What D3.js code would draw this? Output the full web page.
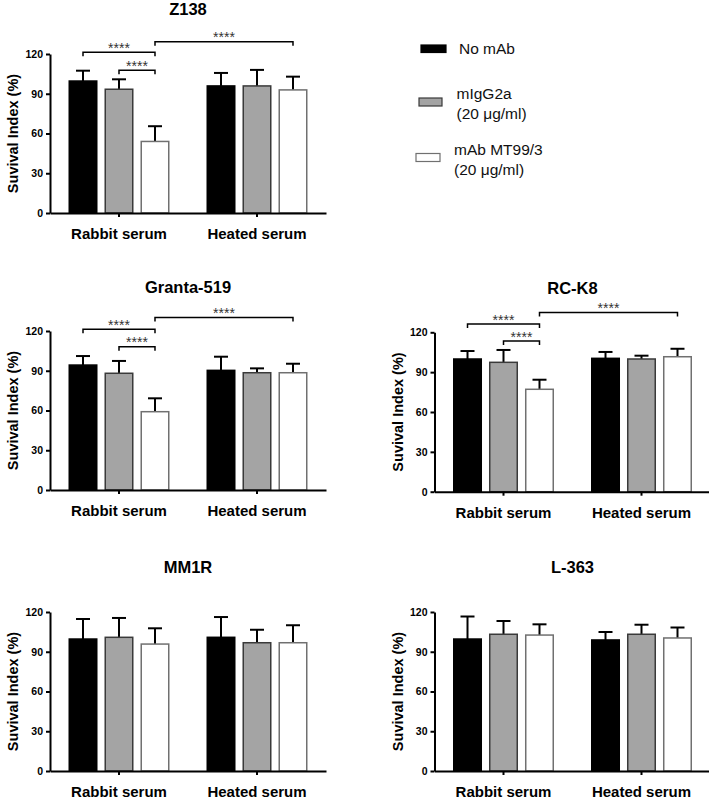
<!DOCTYPE html>
<html>
<head>
<meta charset="utf-8">
<script src="https://cdn.jsdelivr.net/npm/d3@7"></script>
<style>
  html, body { margin: 0; padding: 0; background: #fff; }
  svg { display: block; font-family: "Liberation Sans", Arial, sans-serif; }
</style>
</head>
<body>
<svg id="chart" width="709" height="803"></svg>
<script>
// ---------------- DATA ----------------
const groups = ["Rabbit serum", "Heated serum"];
const seriesNames = ["No mAb", "mIgG2a", "mAb MT99/3"];
const seriesSub = ["", "(20 \u03bcg/ml)", "(20 \u03bcg/ml)"];
const yTicks = [0, 30, 60, 90, 120];
const panelTitles = ["Z138", "Granta-519", "RC-K8", "MM1R", "L-363"];
const yLabel = "Suvival Index (%)";
const sigLabel = "****";

// means [group][series], errors (upper SD) [group][series]
const z138Means = [[99.6, 93.4, 54.0], [95.9, 95.9, 92.9]];
const z138Errors = [[7.8, 7.5, 11.5], [9.8, 12.1, 10.0]];
const grantaMeans = [[94.3, 88.1, 59.1], [90.3, 88.5, 88.5]];
const grantaErrors = [[6.8, 9.3, 10.1], [10.3, 3.3, 6.8]];
const rck8Means = [[99.9, 97.4, 77.1], [100.4, 99.9, 101.6]];
const rck8Errors = [[6.0, 9.3, 7.2], [4.8, 2.5, 6.0]];
const mm1rMeans = [[99.6, 100.9, 95.8], [100.9, 96.8, 96.8]];
const mm1rErrors = [[15.1, 14.6, 11.9], [15.3, 9.8, 13.2]];
const l363Means = [[99.6, 103.2, 102.6], [98.9, 103.2, 100.4]];
const l363Errors = [[17.0, 10.0, 8.1], [6.0, 7.2, 7.9]];

// significance brackets: [groupA, seriesA, groupB, seriesB, level]
const z138Sig = [[0, 0, 0, 2, 121.3], [0, 1, 0, 2, 107.7], [0, 2, 1, 2, 129.3]];
const grantaSig = [[0, 0, 0, 2, 121.3], [0, 1, 0, 2, 108.2], [0, 2, 1, 2, 130.2]];
const rck8Sig = [[0, 0, 0, 2, 126.2], [0, 1, 0, 2, 113.4], [0, 2, 1, 2, 135.0]];
const noSig = [];

// ---------------- STYLE / LAYOUT ----------------
const fills = ["#000000", "#a4a4a4", "#ffffff"];
const strokes = ["#000000", "#3a3a3a", "#707070"];
const FONT = "'Liberation Sans', Arial, sans-serif";

const panels = [
  { title: panelTitles[0], means: z138Means, errs: z138Errors, sig: z138Sig, x0: 50, yTop: 54, yBot: 213, titleY: 15 },
  { title: panelTitles[1], means: grantaMeans, errs: grantaErrors, sig: grantaSig, x0: 50, yTop: 331, yBot: 490, titleY: 292.5 },
  { title: panelTitles[2], means: rck8Means, errs: rck8Errors, sig: rck8Sig, x0: 434.5, yTop: 332.3, yBot: 491.7, titleY: 294 },
  { title: panelTitles[3], means: mm1rMeans, errs: mm1rErrors, sig: noSig, x0: 50, yTop: 612, yBot: 771, titleY: 573.3 },
  { title: panelTitles[4], means: l363Means, errs: l363Errors, sig: noSig, x0: 434.5, yTop: 612, yBot: 771, titleY: 573.3 }
];

const svg = d3.select("#chart");

panels.forEach(p => {
  const g = svg.append("g");
  const x = d3.scaleBand().domain(d3.range(groups.length)).range([p.x0, p.x0 + 276]).padding(0);
  const xi = d3.scaleBand().domain(d3.range(seriesNames.length)).range([-50.5, 50.5]).paddingInner(0.194).paddingOuter(0);
  const y = d3.scaleLinear().domain([0, 120]).range([p.yBot, p.yTop]);
  const cx = (gi, si) => x(gi) + x.bandwidth() / 2 + xi(si) + xi.bandwidth() / 2;

  // title
  g.append("text")
    .attr("x", p.x0 + 138).attr("y", p.titleY)
    .attr("text-anchor", "middle")
    .attr("font-family", FONT).attr("font-weight", "bold").attr("font-size", 16.5)
    .attr("fill", "#000")
    .text(p.title);

  // bars
  const data = [];
  p.means.forEach((row, gi) => row.forEach((v, si) => data.push({ gi, si, v, e: p.errs[gi][si] })));

  // error bars (drawn behind bars)
  const eb = g.append("g").attr("stroke", "#000").attr("stroke-width", 2).attr("fill", "none");
  data.forEach(d => {
    const c = cx(d.gi, d.si);
    eb.append("line").attr("x1", c).attr("x2", c).attr("y1", y(d.v)).attr("y2", y(d.v + d.e));
    eb.append("line").attr("x1", c - 7).attr("x2", c + 7).attr("y1", y(d.v + d.e)).attr("y2", y(d.v + d.e));
  });

  g.append("g").selectAll("rect").data(data).join("rect")
    .attr("x", d => x(d.gi) + x.bandwidth() / 2 + xi(d.si) + 0.75)
    .attr("width", xi.bandwidth() - 1.5)
    .attr("y", d => y(d.v))
    .attr("height", d => y(0) - y(d.v))
    .attr("fill", d => fills[d.si])
    .attr("stroke", d => strokes[d.si])
    .attr("stroke-width", 1.5);

  // y axis
  const ya = g.append("g").attr("transform", `translate(${p.x0},0)`)
    .call(d3.axisLeft(y).tickValues(yTicks).tickSize(4).tickSizeOuter(0).tickPadding(3));
  ya.select(".domain").attr("stroke", "#000").attr("stroke-width", 2);
  ya.selectAll(".tick line").attr("stroke", "#000").attr("stroke-width", 2);
  ya.selectAll(".tick text").attr("font-family", FONT).attr("font-weight", "bold")
    .attr("font-size", 10.5).attr("fill", "#000");

  // x axis
  const xa = g.append("g").attr("transform", `translate(0,${p.yBot})`)
    .call(d3.axisBottom(x).tickFormat(i => groups[i]).tickSize(4).tickSizeOuter(0));
  xa.select(".domain").attr("stroke", "#000").attr("stroke-width", 2);
  xa.selectAll(".tick line").attr("stroke", "#000").attr("stroke-width", 2);
  xa.selectAll(".tick text").attr("font-family", FONT).attr("font-weight", "bold")
    .attr("font-size", 15).attr("fill", "#000").attr("dy", null).attr("y", 26);

  // y label
  g.append("text")
    .attr("transform", `translate(${p.x0 - 37},${(p.yTop + p.yBot) / 2}) rotate(-90)`)
    .attr("text-anchor", "middle").attr("dominant-baseline", "central")
    .attr("font-family", FONT).attr("font-weight", "bold").attr("font-size", 14.5)
    .attr("fill", "#000")
    .text(yLabel);

  // significance brackets
  p.sig.forEach(s => {
    const xa1 = cx(s[0], s[1]), xb1 = cx(s[2], s[3]), yy = y(s[4]);
    g.append("path")
      .attr("d", `M${xa1},${yy + 4}V${yy}H${xb1}V${yy + 4}`)
      .attr("fill", "none").attr("stroke", "#000").attr("stroke-width", 1.5);
    g.append("text")
      .attr("x", (xa1 + xb1) / 2).attr("y", yy + 0.5)
      .attr("text-anchor", "middle")
      .attr("font-family", FONT).attr("font-size", 14).attr("fill", "#333")
      .text(sigLabel);
  });
});

// ---------------- LEGEND ----------------
const legendRects = [
  { x: 421, y: 45, w: 25, h: 7.5 },
  { x: 419, y: 98, w: 23, h: 8 },
  { x: 416, y: 153.5, w: 24, h: 8 }
];
const legendText = [
  { x: 459, y1: 54.3, y2: null },
  { x: 456.5, y1: 99.3, y2: 118.5 },
  { x: 454, y1: 155, y2: 174.5 }
];
const lg = svg.append("g");
seriesNames.forEach((name, i) => {
  const r = legendRects[i], t = legendText[i];
  lg.append("rect").attr("x", r.x).attr("y", r.y).attr("width", r.w).attr("height", r.h)
    .attr("fill", fills[i]).attr("stroke", strokes[i]).attr("stroke-width", 1.2);
  lg.append("text").attr("x", t.x).attr("y", t.y1)
    .attr("font-family", FONT).attr("font-size", 15.5).attr("fill", "#111").text(name);
  if (seriesSub[i]) {
    lg.append("text").attr("x", t.x).attr("y", t.y2)
      .attr("font-family", FONT).attr("font-size", 15.5).attr("fill", "#111").text(seriesSub[i]);
  }
});
</script>
</body>
</html>
